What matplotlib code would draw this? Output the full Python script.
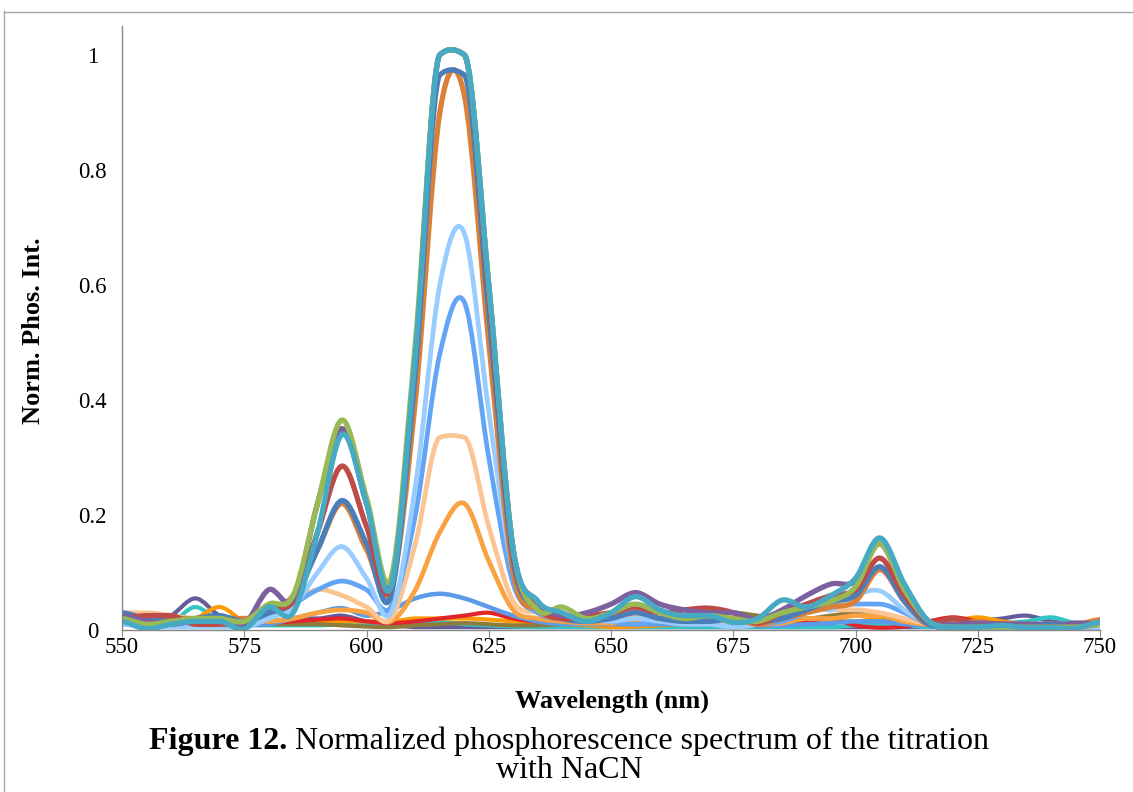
import numpy as np
import matplotlib
matplotlib.use("Agg")
import matplotlib.pyplot as plt
from matplotlib.path import Path
from matplotlib.patches import PathPatch
from matplotlib.lines import Line2D

plt.rcParams['font.family'] = ['Liberation Serif', 'DejaVu Serif']

wavelength = list(range(550, 751, 5))

# ---- series (normalized phosphorescence intensity), 5 nm steps 550..750 ----
dark_purple = [.02, .012, .025, .055, .025, .02, .015, .02, .02, .025, .015, .01, .005, .005, .005, .005, .005, .005,
               .005, .005, .005, .005, .005, .005, .005, .005, .005, .005, .005, .005, .005, .005, .005, .005, .01,
               .015, .02, .025, .015, .012, .01]
turquoise = [.02, .015, .015, .04, .015, .01, .008, .008, .008, .01, .01, .01, .012, .014, .01, .008, .006, .005,
             .005, .005, .005, .005, .005, .005, .005, .005, .005, .005, .005, .005, .008, .01, .008, .005, .005,
             .008, .012, .015, .022, .012, .01]
orange_bright = [.02, .02, .015, .02, .04, .015, .012, .012, .015, .015, .015, .015, .02, .02, .02, .018, .015, .012,
                 .01, .008, .005, .006, .008, .01, .01, .01, .01, .01, .012, .015, .015, .02, .015, .01, .015, .022,
                 .015, .01, .01, .01, .012]
olive = [.01, .01, .01, .01, .01, .01, .01, .01, .01, .008, .006, .005, .008, .01, .012, .01, .008, .008, .01, .012,
         .015, .02, .02, .025, .03, .03, .025, .02, .02, .025, .03, .025, .015, .01, .008, .008, .008, .008, .008,
         .008, .008]
red_bright = [.01, .012, .015, .01, .008, .01, .012, .015, .018, .02, .015, .012, .015, .02, .025, .03, .02, .015,
              .02, .015, .012, .015, .015, .02, .015, .01, .008, .01, .015, .02, .008, .004, .006, .015, .022,
              .015, .01, .008, .008, .008, .01]
blue_small = [.015, .012, .01, .01, .01, .008, .01, .02, .03, .038, .025, .035, .055, .063, .055, .04, .025, .015,
              .01, .01, .01, .01, .01, .01, .01, .008, .008, .008, .01, .012, .015, .015, .01, .008, .005, .005,
              .005, .005, .005, .005, .005]
orange = [.02, .02, .015, .015, .015, .015, .015, .02, .03, .035, .03, .015, .07, .17, .22, .12, .035, .02, .015,
          .012, .012, .015, .015, .015, .012, .01, .01, .012, .02, .02, .025, .025, .015, .01, .01, .015, .01, .01,
          .01, .01, .01]
peach = [.03, .03, .025, .02, .02, .015, .02, .05, .07, .06, .04, .02, .15, .335, .335, .18, .05, .03, .02, .02, .02,
         .025, .02, .02, .015, .01, .015, .025, .04, .035, .035, .03, .02, .01, .005, .005, .005, .005, .005, .005,
         .005]
blue = [.02, .015, .01, .01, .01, .005, .025, .045, .07, .085, .07, .04, .2, .48, .57, .3, .08, .03, .02, .02, .015,
        .01, .015, .015, .01, .005, .01, .015, .03, .045, .045, .045, .03, .01, .005, .005, .005, .005, .005, .005,
        .005]
light_blue = [.01, .005, .005, .005, .005, .005, .02, .04, .1, .145, .09, .03, .25, .6, .69, .38, .1, .04, .025, .02,
              .015, .02, .015, .01, .01, .005, .01, .02, .045, .035, .06, .068, .035, .01, .005, .005, .005, .005,
              .005, .005, .005]
brown_orange = [.025, .02, .02, .02, .02, .02, .03, .06, .14, .22, .14, .07, .4, .9, .93, .5, .1, .035, .02, .02,
                .025, .035, .02, .02, .02, .02, .01, .02, .03, .04, .05, .105, .05, .01, .01, .015, .01, .01, .01,
                .01, .018]
steel_blue = [.03, .02, .015, .02, .025, .015, .03, .05, .14, .225, .15, .06, .45, .965, .965, .55, .12, .04, .02,
              .015, .02, .03, .02, .015, .015, .02, .015, .02, .035, .05, .06, .11, .05, .01, .005, .01, .01, .01,
              .01, .01, .01]
red = [.02, .025, .025, .01, .01, .015, .04, .05, .17, .285, .18, .075, .48, 1.0, 1.0, .58, .13, .04, .02, .025, .03,
       .04, .03, .035, .038, .03, .012, .03, .045, .06, .07, .125, .06, .015, .02, .01, .01, .008, .005, .005, .01]
purple = [.025, .015, .01, .015, .015, .01, .07, .055, .22, .35, .22, .085, .48, 1.0, 1.0, .6, .14, .05, .025, .03,
          .045, .065, .045, .035, .03, .03, .018, .035, .06, .08, .085, .15, .07, .015, .01, .012, .01, .01, .005,
          .012, .01]
green = [.02, .01, .015, .02, .02, .015, .045, .06, .22, .365, .23, .09, .5, 1.0, 1.0, .6, .14, .035, .04, .02, .03,
         .045, .03, .02, .025, .02, .015, .03, .04, .05, .075, .15, .07, .015, .005, .005, .005, .005, .005, .005,
         .01]
cyan = [.015, .002, .01, .015, .015, .002, .04, .03, .17, .34, .22, .075, .48, 1.0, 1.0, .6, .14, .05, .03, .015,
        .03, .058, .035, .025, .025, .013, .02, .052, .04, .06, .09, .16, .08, .015, .005, .005, .008, .004, .004,
        .003, .014]

series = [
    (dark_purple, '#655C9C', 3.0),
    (turquoise, '#33C4C4', 3.0),
    (orange_bright, '#FF9A00', 3.0),
    (olive, '#8E7B3E', 3.0),
    (red_bright, '#E0262B', 3.0),
    (blue_small, '#5B9BEA', 3.2),
    (orange, '#F9A242', 3.4),
    (peach, '#FAC592', 3.4),
    (blue, '#63A5F5', 3.4),
    (light_blue, '#99CCFF', 3.4),
    (brown_orange, '#DA8137', 3.8),
    (steel_blue, '#4A7EBB', 3.8),
    (red, '#BE4B48', 3.8),
    (purple, '#7D60A0', 3.8),
    (green, '#98B954', 3.8),
    (cyan, '#46AAC5', 3.8),
]


def smooth_path(x, y):
    """Smoothed line: cubic Bezier segments through the data points (softened where neighbours are equal)."""
    x = np.asarray(x, float)
    y = np.asarray(y, float)
    n = len(x)
    d = np.diff(y)
    m = np.zeros(n)
    m[0] = d[0] / 2
    m[-1] = d[-1] / 2
    for i in range(1, n - 1):
        m[i] = (y[i + 1] - y[i - 1]) / 2
        if d[i - 1] == 0 or d[i] == 0:
            m[i] *= 0.15
    verts = [(x[0], y[0])]
    codes = [Path.MOVETO]
    for i in range(n - 1):
        h = x[i + 1] - x[i]
        verts += [(x[i] + h / 3, y[i] + m[i] / 3), (x[i + 1] - h / 3, y[i + 1] - m[i + 1] / 3),
                  (x[i + 1], y[i + 1])]
        codes += [Path.CURVE4] * 3
    return Path(verts, codes)


W, H = 1133, 792
fig = plt.figure(figsize=(W / 100, H / 100), dpi=100)
ax = fig.add_axes([122 / W, 1 - 630 / H, (1100 - 122) / W, (630 - 26) / H])

for vals, col, lw in series:
    patch = PathPatch(smooth_path(wavelength, vals), facecolor='none', edgecolor=col, lw=lw,
                      capstyle='round', joinstyle='round')
    ax.add_patch(patch)

ax.set_xlim(550, 750)
ax.set_ylim(0, 1.05)
ax.set_xticks(range(550, 751, 25))
ax.set_yticks([0, 0.2, 0.4, 0.6, 0.8, 1.0])
ax.set_yticklabels(['0', '0.2', '0.4', '0.6', '0.8', '1'])
for s in ['top', 'right']:
    ax.spines[s].set_visible(False)
for s in ['left', 'bottom']:
    ax.spines[s].set_color('#868686')
    ax.spines[s].set_linewidth(1.0)
ax.tick_params(axis='x', direction='out', length=5, color='#868686', labelsize=16.5, pad=0)
ax.tick_params(axis='y', length=0, labelsize=16.5, pad=21)
for lbl in ax.get_yticklabels():
    lbl.set_ha('center')
ax.set_xlabel('Wavelength (nm)', fontsize=19, fontweight='bold')
ax.set_ylabel('Norm. Phos. Int.', fontsize=19, fontweight='bold')
ax.xaxis.set_label_coords((612 - 122) / (1100 - 122), -(701 - 630) / (630 - 26), transform=ax.transAxes)
ax.xaxis.label.set_va('center')
ax.yaxis.set_label_coords(-(122 - 34) / (1100 - 122), (630 - 331) / (630 - 26), transform=ax.transAxes)
ax.yaxis.label.set_va('center')

t1 = fig.text(0, 1 - 741 / H, 'Figure 12.', fontsize=23, fontweight='bold', ha='left', va='center')
t2 = fig.text(0, 1 - 741 / H, ' Normalized phosphorescence spectrum of the titration', fontsize=23,
              ha='left', va='center')
fig.canvas.draw()
renderer = fig.canvas.get_renderer()
w1 = t1.get_window_extent(renderer).width
w2 = t2.get_window_extent(renderer).width
x0 = 569 - (w1 + w2) / 2
t1.set_x(x0 / W)
t2.set_x((x0 + w1) / W)
fig.text(569 / W, 1 - 771 / H, 'with NaCN', fontsize=23, ha='center', va='center')

# page border
fig.add_artist(Line2D([3.5 / W, 3.5 / W], [0, 1 - 11 / H], color='#A6A6A6', lw=1, transform=fig.transFigure))
fig.add_artist(Line2D([3.5 / W, 1], [1 - 11.5 / H, 1 - 11.5 / H], color='#A6A6A6', lw=1, transform=fig.transFigure))

fig.savefig('out.png', dpi=100)
